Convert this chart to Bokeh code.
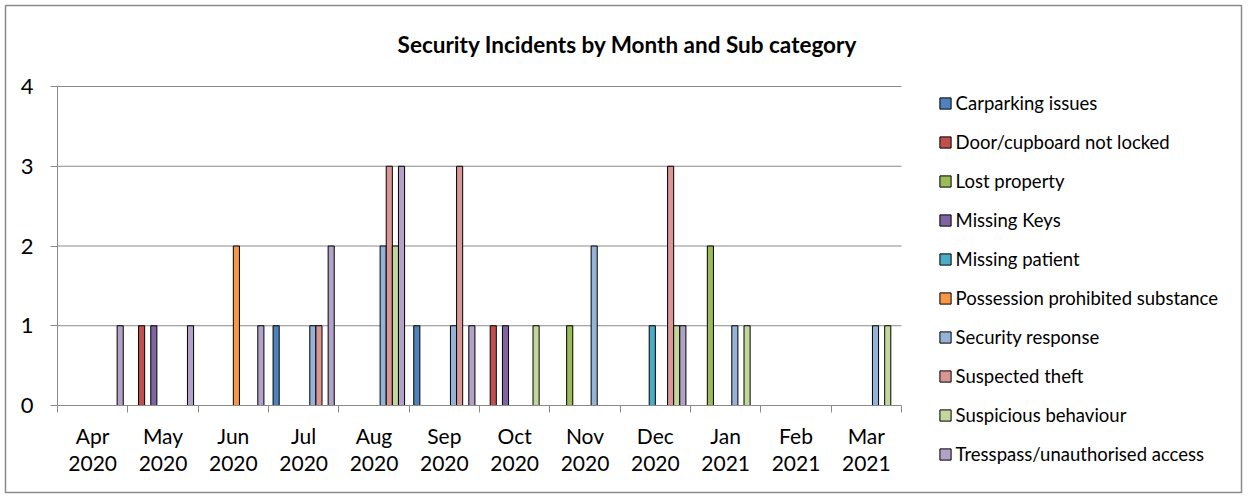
from bokeh.plotting import figure
from bokeh.models import (ColumnDataSource, Range1d, FixedTicker, Legend, LegendItem,
                          LinearAxis, Label)
from bokeh.transform import dodge
from bokeh.embed import file_html
from bokeh.resources import INLINE

months = ["Apr\n2020", "May\n2020", "Jun\n2020", "Jul\n2020", "Aug\n2020", "Sep\n2020",
          "Oct\n2020", "Nov\n2020", "Dec\n2020", "Jan\n2021", "Feb\n2021", "Mar\n2021"]

series_names = ["Carparking issues", "Door/cupboard not locked", "Lost property", "Missing Keys",
                "Missing patient", "Possession prohibited substance", "Security response",
                "Suspected theft", "Suspicious behaviour", "Tresspass/unauthorised access"]

carparking   = [0, 0, 0, 1, 0, 1, 0, 0, 0, 0, 0, 0]
door         = [0, 1, 0, 0, 0, 0, 1, 0, 0, 0, 0, 0]
lost         = [0, 0, 0, 0, 0, 0, 0, 1, 0, 2, 0, 0]
missing_keys = [0, 1, 0, 0, 0, 0, 1, 0, 0, 0, 0, 0]
missing_pat  = [0, 0, 0, 0, 0, 0, 0, 0, 1, 0, 0, 0]
possession   = [0, 0, 2, 0, 0, 0, 0, 0, 0, 0, 0, 0]
security     = [0, 0, 0, 1, 2, 1, 0, 2, 0, 1, 0, 1]
theft        = [0, 0, 0, 1, 3, 3, 0, 0, 3, 0, 0, 0]
suspicious   = [0, 0, 0, 0, 2, 0, 1, 0, 1, 1, 0, 1]
tresspass    = [1, 1, 1, 2, 3, 1, 0, 0, 1, 0, 0, 0]

y_ticks = [0, 1, 2, 3, 4]

series_values = [carparking, door, lost, missing_keys, missing_pat, possession,
                 security, theft, suspicious, tresspass]
colors = ["#4F81BD", "#C0504D", "#9BBB59", "#8064A2", "#4BACC6", "#F79646",
          "#95B3D7", "#D99694", "#C3D69B", "#B3A2C7"]

FONT = "Lato"
GRAY = "#8a8a8a"
W, H = 1248, 497
# chart-area border (the frame) and plot-area placement, in pixels
BL, BT, BR, BB = 5, 5, 1241, 492
PL, PT, PR, PB = 57, 86, 901, 405

nm = len(months)
ymax = y_ticks[-1]
xpx = (PR - PL) / nm
ypx = (PB - PT) / ymax
x_range = Range1d(-(PL - BL) / xpx, nm + (BR - PR) / xpx)
y_range = Range1d(-(BB - PB) / ypx, ymax + (PT - BT) / ypx)

n = len(series_names)
gap = 1.5  # Excel gap width 150%
bw = 1.0 / (n + gap)

p = figure(width=W, height=H, output_backend="svg", toolbar_location=None,
           x_range=x_range, y_range=y_range,
           x_axis_location=None, y_axis_location=None,
           min_border_left=BL, min_border_top=BT, min_border_right=W - BR, min_border_bottom=H - BB)
p.outline_line_color = GRAY
p.outline_line_width = 1.5
p.background_fill_color = "white"
p.border_fill_color = "white"
for g in p.grid:
    g.visible = False

# horizontal gridlines
gl = [t for t in y_ticks if t > 0]
p.segment(x0=[0] * len(gl), x1=[nm] * len(gl), y0=gl, y1=gl, line_color=GRAY, line_width=1)

items = []
for i, (name, vals, col) in enumerate(zip(series_names, series_values, colors)):
    xs = [k + 0.5 for k, v in enumerate(vals) if v > 0]
    ys = [v for v in vals if v > 0]
    src = ColumnDataSource(dict(x=xs, top=ys))
    off = (gap / 2 + i + 0.5) * bw - 0.5
    r = p.vbar(x=dodge("x", off), top="top", bottom=0, width=bw, source=src,
               fill_color=col, line_color="black", line_width=1)
    items.append(LegendItem(label=name, renderers=[r]))

# x axis
xa = LinearAxis(fixed_location=0, bounds=(0, nm))
xa.ticker = FixedTicker(ticks=[k + 0.5 for k in range(nm)], minor_ticks=list(range(nm + 1)))
xa.major_label_overrides = {k + 0.5: m for k, m in enumerate(months)}
xa.major_tick_out = 0
xa.major_tick_in = 0
xa.minor_tick_out = 7
xa.minor_tick_in = 0
xa.minor_tick_line_color = GRAY
xa.axis_line_color = GRAY
xa.major_label_standoff = 10
xa.major_label_text_font = FONT
xa.major_label_text_font_size = "21px"
xa.major_label_text_line_height = 1.11
xa.major_label_text_color = "black"
p.add_layout(xa, "below")

ya = LinearAxis(fixed_location=0, bounds=(0, ymax))
ya.ticker = FixedTicker(ticks=y_ticks)
ya.major_tick_out = 7
ya.major_tick_in = 0
ya.minor_tick_line_color = None
ya.major_tick_line_color = GRAY
ya.axis_line_color = GRAY
ya.major_label_standoff = 17
ya.major_label_text_font = FONT
ya.major_label_text_font_size = "22px"
ya.major_label_text_color = "black"
p.add_layout(ya, "left")

title = Label(x=622, y=BB - 44, x_units="screen", y_units="screen",
              text="Security Incidents by Month and Sub category",
              text_font=FONT, text_font_size="22.5px", text_font_style="bold",
              text_color="black", text_align="center", text_baseline="middle")
p.add_layout(title)

legend = Legend(items=items, location=(939 - 1.4 - BL, BB - 465), orientation="vertical",
                label_text_font=FONT, label_text_font_size="18.5px", label_text_color="black",
                glyph_width=14, glyph_height=14, label_height=20, spacing=17,
                padding=0, margin=0, border_line_color=None, background_fill_alpha=0,
                label_standoff=4)
p.add_layout(legend, "center")

open("out.html", "w").write(file_html(p, INLINE))
